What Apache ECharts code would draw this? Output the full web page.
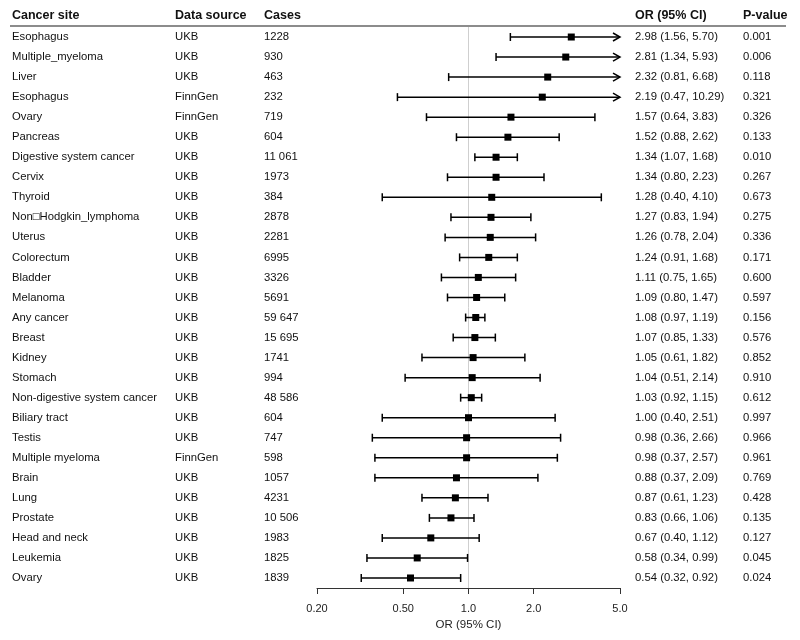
<!DOCTYPE html>
<html><head><meta charset="utf-8">
<script src="https://cdn.jsdelivr.net/npm/echarts@6/dist/echarts.min.js"></script>
<style>html,body{margin:0;padding:0;background:#fff}#c{width:800px;height:640px}</style>
</head><body><div id="c"></div>
<script>
const sites = ["Esophagus","Multiple_myeloma","Liver","Esophagus","Ovary","Pancreas","Digestive system cancer","Cervix","Thyroid","Non\u25A1Hodgkin_lymphoma","Uterus","Colorectum","Bladder","Melanoma","Any cancer","Breast","Kidney","Stomach","Non-digestive system cancer","Biliary tract","Testis","Multiple myeloma","Brain","Lung","Prostate","Head and neck","Leukemia","Ovary"];
const sources = ["UKB","UKB","UKB","FinnGen","FinnGen","UKB","UKB","UKB","UKB","UKB","UKB","UKB","UKB","UKB","UKB","UKB","UKB","UKB","UKB","UKB","UKB","FinnGen","UKB","UKB","UKB","UKB","UKB","UKB"];
const cases = ["1228","930","463","232","719","604","11 061","1973","384","2878","2281","6995","3326","5691","59 647","15 695","1741","994","48 586","604","747","598","1057","4231","10 506","1983","1825","1839"];
const orVals = [2.98,2.81,2.32,2.19,1.57,1.52,1.34,1.34,1.28,1.27,1.26,1.24,1.11,1.09,1.08,1.07,1.05,1.04,1.03,1.00,0.98,0.98,0.88,0.87,0.83,0.67,0.58,0.54];
const lower = [1.56,1.34,0.81,0.47,0.64,0.88,1.07,0.80,0.40,0.83,0.78,0.91,0.75,0.80,0.97,0.85,0.61,0.51,0.92,0.40,0.36,0.37,0.37,0.61,0.66,0.40,0.34,0.32];
const upper = [5.70,5.93,6.68,10.29,3.83,2.62,1.68,2.23,4.10,1.94,2.04,1.68,1.65,1.47,1.19,1.33,1.82,2.14,1.15,2.51,2.66,2.57,2.09,1.23,1.06,1.12,0.99,0.92];
const pvals = ["0.001","0.006","0.118","0.321","0.326","0.133","0.010","0.267","0.673","0.275","0.336","0.171","0.600","0.597","0.156","0.576","0.852","0.910","0.612","0.997","0.966","0.961","0.769","0.428","0.135","0.127","0.045","0.024"];
const headers = ["Cancer site","Data source","Cases","OR (95% CI)","P-value"];
const tickVals = [0.2,0.5,1,2,5];
const tickLabels = ["0.20","0.50","1.0","2.0","5.0"];
const xMin = 0.2, xMax = 5;

const FONT = "'Liberation Sans', Arial, sans-serif";
const colX = [12,175,264,635,743];

const rows = orVals.map((v,i)=>[v, lower[i], upper[i], i]);
const textRows = orVals.map((v,i)=>[1, i]);

function ciItem(params, api){
  const or = api.value(0), lo = api.value(1), hi = api.value(2), idx = api.value(3);
  const y = api.coord([1, idx])[1];
  const xl = api.coord([Math.max(lo, xMin), idx])[0];
  const xh = api.coord([Math.min(hi, xMax), idx])[0];
  const xo = api.coord([or, idx])[0];
  const st = {stroke:'#000', lineWidth:1.5, fill:null};
  const ch = [{type:'line', shape:{x1:xl,y1:y,x2:xh,y2:y}, style:st}];
  if (hi > xMax) {
    ch.push({type:'polyline', shape:{points:[[xh-7,y-4],[xh,y],[xh-7,y+4]]}, style:st});
  } else {
    ch.push({type:'line', shape:{x1:xh,y1:y-4,x2:xh,y2:y+4}, style:st});
  }
  if (lo < xMin) {
    ch.push({type:'polyline', shape:{points:[[xl+7,y-4],[xl,y],[xl+7,y+4]]}, style:st});
  } else {
    ch.push({type:'line', shape:{x1:xl,y1:y-4,x2:xl,y2:y+4}, style:st});
  }
  ch.push({type:'rect', shape:{x:xo-3.5,y:y-3.5,width:7,height:7}, style:{fill:'#000'}});
  return {type:'group', children:ch};
}

function textItem(params, api){
  const idx = api.value(1);
  const y = api.coord([1, idx])[1];
  const vals = [sites[idx], sources[idx], cases[idx],
    orVals[idx].toFixed(2)+" ("+lower[idx].toFixed(2)+", "+upper[idx].toFixed(2)+")", pvals[idx]];
  return {type:'group', children: vals.map((t,k)=>({
    type:'text', x: colX[k], y: y,
    style:{text:t, fill:'#111', font:"11.3px "+FONT, verticalAlign:'middle'}
  }))};
}

const chart = echarts.init(document.getElementById('c'), null, {renderer:'canvas'});
chart.setOption({
  animation:false,
  backgroundColor:'#fff',
  grid:{left:317, right:180, top:27, bottom:52},
  xAxis:{
    type:'log', logBase:10, min:xMin, max:xMax,
    axisLine:{show:true, lineStyle:{color:'#333', width:1}},
    axisTick:{show:true, length:6, customValues:tickVals, lineStyle:{color:'#333'}},
    axisLabel:{show:true, customValues:tickVals, margin:15, color:'#222', fontSize:11, fontFamily:FONT,
      formatter:(v)=>{const i=tickVals.findIndex(t=>Math.abs(t-v)<1e-9); return i>=0?tickLabels[i]:'';}},
    splitLine:{show:false},
    name:'OR (95% CI)', nameLocation:'middle', nameGap:30,
    nameTextStyle:{color:'#222', fontSize:11.5, fontFamily:FONT}
  },
  yAxis:{
    type:'category', inverse:true, data:sites.map((s,i)=>i),
    show:false, boundaryGap:true
  },
  graphic:[
    {type:'group', children: headers.map((h,k)=>({
      type:'text', x: colX[k], y: 16,
      style:{text:h, fill:'#111', font:"bold 12.5px "+FONT, verticalAlign:'middle'}
    }))},
    {type:'line', shape:{x1:10,y1:26,x2:786,y2:26}, style:{stroke:'#666', lineWidth:1.5}}
  ],
  series:[
    {type:'line', data:[], z:1,
     markLine:{silent:true, z:1, symbol:'none', label:{show:false},
       lineStyle:{color:'#cfcfcf', width:1, type:'solid'}, data:[{xAxis:1}]}},
    {type:'custom', data:rows, renderItem:ciItem, clip:false, z:3},
    {type:'custom', data:textRows, renderItem:textItem, clip:false, z:4}
  ]
});
</script>
</body></html>
